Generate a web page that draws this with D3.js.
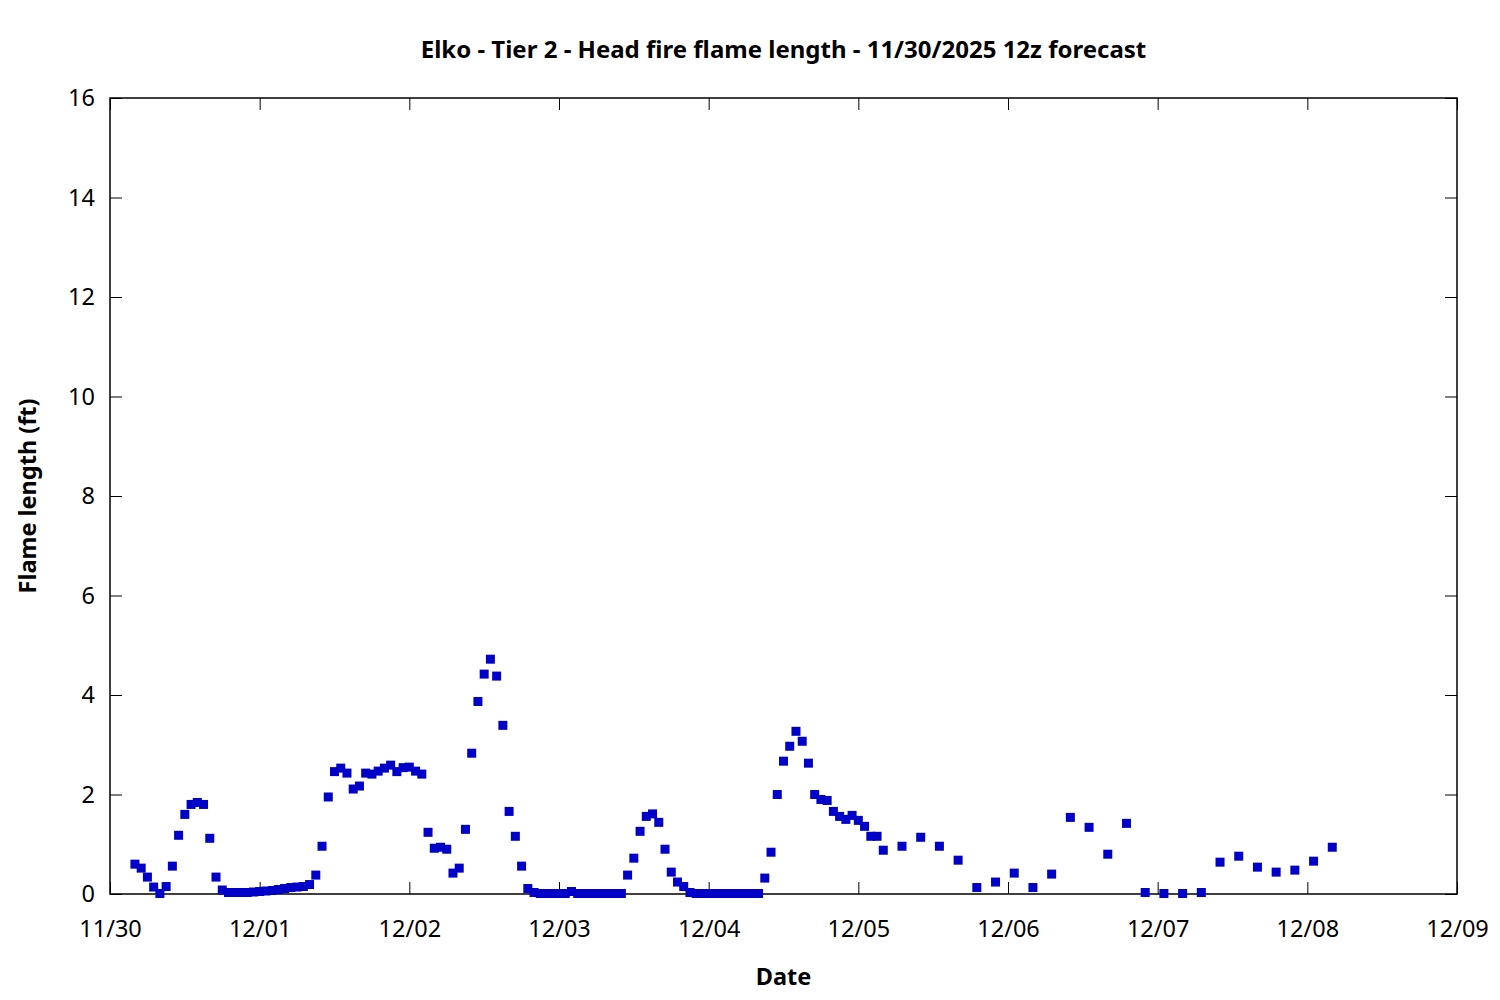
<!DOCTYPE html>
<html>
<head>
<meta charset="utf-8">
<script src="https://cdn.jsdelivr.net/npm/d3@7"></script>
<style>
  body { margin: 0; background: #fff; }
  svg { display: block; }
  text { font-family: "Noto Sans", "Open Sans", sans-serif; fill: #000; }
</style>
</head>
<body>
<svg id="chart" width="1500" height="1000"></svg>
<script>
// Hours after 11/30/2025 00:00 (local forecast time)
const hours = [
  4,5,6,7,8,9,10,11,12,13,14,15,16,17,18,19,20,21,22,23,
  24,25,26,27,28,29,30,31,32,33,34,35,36,37,38,39,40,41,42,43,44,45,46,47,
  48,49,50,51,52,53,54,55,56,57,58,59,60,61,62,63,64,65,66,67,68,69,70,71,
  72,73,74,75,76,77,78,79,80,81,82,83,84,85,86,87,88,89,90,91,92,93,94,95,
  96,97,98,99,100,101,102,103,104,105,106,107,108,109,110,111,112,113,114,115,116,117,118,119,
  120,121,122,123,124,127,130,133,136,139,142,
  145,148,151,154,157,160,163,166,169,172,175,178,181,184,187,190,193,196
];
const flameLength = [
  0.60,0.52,0.34,0.14,0.01,0.15,0.56,1.18,1.60,1.80,1.84,1.80,1.12,0.34,0.08,0.03,0.03,0.03,0.03,0.04,
  0.05,0.06,0.07,0.09,0.11,0.13,0.14,0.15,0.19,0.38,0.96,1.95,2.46,2.53,2.43,2.11,2.17,2.43,2.41,2.47,2.53,2.59,2.46,2.54,
  2.55,2.47,2.41,1.24,0.92,0.94,0.90,0.42,0.52,1.30,2.83,3.87,4.42,4.72,4.38,3.39,1.66,1.16,0.56,0.11,0.03,0.01,0.01,0.01,
  0.01,0.01,0.05,0.01,0.01,0.01,0.01,0.01,0.01,0.01,0.01,0.38,0.72,1.26,1.56,1.61,1.44,0.90,0.44,0.24,0.15,0.03,0.01,0.01,
  0.01,0.01,0.01,0.01,0.01,0.01,0.01,0.01,0.01,0.32,0.84,2.00,2.67,2.97,3.27,3.07,2.63,2.00,1.90,1.88,1.66,1.56,1.50,1.58,
  1.48,1.36,1.16,1.16,0.88,0.96,1.14,0.96,0.68,0.13,0.24,
  0.42,0.13,0.40,1.54,1.34,0.80,1.42,0.03,0.01,0.01,0.03,0.64,0.76,0.54,0.44,0.48,0.66,0.94
];
const yTicks = [0, 2, 4, 6, 8, 10, 12, 14, 16];
const xTickLabels = ["11/30","12/01","12/02","12/03","12/04","12/05","12/06","12/07","12/08","12/09"];
const titleText = "Elko - Tier 2 - Head fire flame length - 11/30/2025 12z forecast";
const xLabel = "Date";
const yLabel = "Flame length (ft)";

const start = Date.UTC(2025, 10, 30);
const data = hours.map((h, i) => ({ t: new Date(start + h * 3600e3), v: flameLength[i] }));
const dayDates = xTickLabels.map((_, i) => new Date(start + i * 86400e3));

const L = 110, R = 1457, T = 98, B = 894;
const FS = 23.5;
const svg = d3.select("#chart");

const x = d3.scaleUtc().domain([dayDates[0], dayDates[dayDates.length - 1]]).range([L, R]);
const y = d3.scaleLinear().domain([0, 16]).range([B, T]);

const tickLen = 12;
// bottom axis
const xAxis = d3.axisBottom(x).tickValues(dayDates).tickFormat((d, i) => xTickLabels[i]).tickSizeInner(-tickLen).tickSizeOuter(0).tickPadding(26);
const gx = svg.append("g").attr("transform", `translate(0,${B})`).call(xAxis);
gx.select(".domain").remove();
gx.selectAll("text").attr("font-size", FS).attr("font-family", '"Noto Sans", sans-serif').attr("fill", "#000");
gx.selectAll("line").attr("stroke", "#000");
// top axis ticks
const gxt = svg.append("g").attr("transform", `translate(0,${T})`).call(d3.axisTop(x).tickValues(dayDates).tickFormat("").tickSizeInner(-tickLen).tickSizeOuter(0));
gxt.select(".domain").remove();
gxt.selectAll("line").attr("stroke", "#000");
// left axis
const yAxis = d3.axisLeft(y).tickValues(yTicks).tickFormat(d3.format("d")).tickSizeInner(-tickLen).tickSizeOuter(0).tickPadding(15);
const gy = svg.append("g").attr("transform", `translate(${L},0)`).call(yAxis);
gy.select(".domain").remove();
gy.selectAll("text").attr("font-size", FS).attr("font-family", '"Noto Sans", sans-serif').attr("fill", "#000");
gy.selectAll("line").attr("stroke", "#000");
// right axis ticks
const gyr = svg.append("g").attr("transform", `translate(${R},0)`).call(d3.axisRight(y).tickValues(yTicks).tickFormat("").tickSizeInner(-tickLen).tickSizeOuter(0));
gyr.select(".domain").remove();
gyr.selectAll("line").attr("stroke", "#000");

// frame
svg.append("rect").attr("x", L).attr("y", T).attr("width", R - L).attr("height", B - T)
  .attr("fill", "none").attr("stroke", "#000").attr("stroke-width", 1.5);

// points
const s = 9;
svg.append("g").selectAll("rect").data(data).join("rect")
  .attr("x", d => x(d.t) - s / 2).attr("y", d => y(d.v) - s / 2)
  .attr("width", s).attr("height", s).attr("fill", "#0000c8");

// titles
svg.append("text").attr("x", (L + R) / 2).attr("y", 58).attr("text-anchor", "middle")
  .attr("font-size", 24).attr("font-weight", "bold").text(titleText);
svg.append("text").attr("x", (L + R) / 2).attr("y", 985).attr("text-anchor", "middle")
  .attr("font-size", FS).attr("font-weight", "bold").text(xLabel);
svg.append("text").attr("transform", `translate(36,${(T + B) / 2}) rotate(-90)`).attr("text-anchor", "middle")
  .attr("font-size", FS).attr("font-weight", "bold").text(yLabel);
</script>
</body>
</html>
